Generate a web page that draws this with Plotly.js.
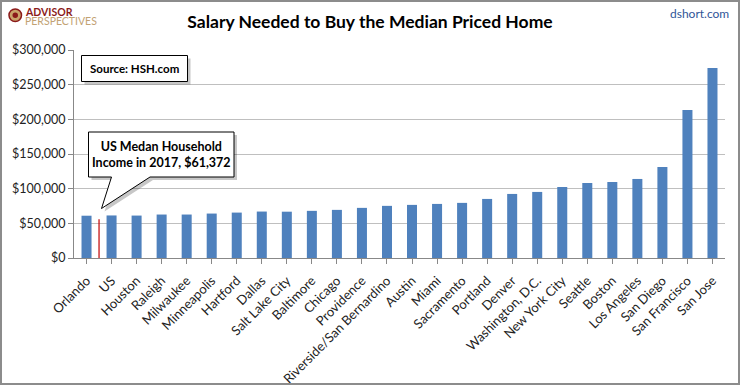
<!DOCTYPE html>
<html>
<head>
<meta charset="utf-8">
<script src="https://cdn.plot.ly/plotly-3.0.1.min.js"></script>
<style>html,body{margin:0;padding:0;background:#fff;}#chart{width:740px;height:385px;}</style>
</head>
<body>
<div id="chart"></div>
<script>
const cities = ["Orlando","US","Houston","Raleigh","Milwaukee","Minneapolis","Hartford","Dallas","Salt Lake City","Baltimore","Chicago","Providence","Riverside/San Bernardino","Austin","Miami","Sacramento","Portland","Denver","Washington, D.C.","New York City","Seattle","Boston","Los Angeles","San Diego","San Francisco","San Jose"];
const salaries = [61000,61372,61200,62700,62700,64100,65500,67000,66800,68000,69400,72300,75200,76600,78000,79500,85200,92400,95300,102400,108200,109600,114000,131200,213400,274000];
const yTicks = [0,50000,100000,150000,200000,250000,300000];
const redLineX = 0.5;
const redLineTop = 56000;

const L = 74, R = 15, T = 50, B = 127, W = 740, H = 385;
const pw = W - L - R, ph = H - T - B;
const px = x => (x - L) / pw;
const py = y => (H - B - y) / ph;

const font = "Lato, 'Open Sans', sans-serif";

const trace = {
  type: "bar", x: cities.map((c, i) => i), y: salaries,
  marker: {color: "#4f81bd"}, hoverinfo: "skip"
};

function pathFrom(pts, dx, dy) {
  return "M " + pts.map(p => px(p[0] + dx) + " " + py(p[1] + dy)).join(" L ") + " Z";
}
const callout = [[88.5,132],[234,132],[234,177],[150,177],[101.5,208.5],[111.5,177],[88.5,177]];
const srcBox = [[81.5,55.5],[187.5,55.5],[187.5,81.5],[81.5,81.5]];

const shapes = [
  {type:"path", xref:"paper", yref:"paper", path: pathFrom(srcBox,3,3), fillcolor:"rgba(0,0,0,0.22)", line:{width:0}},
  {type:"path", xref:"paper", yref:"paper", path: pathFrom(srcBox,0,0), fillcolor:"#fff", line:{color:"#000", width:1}},
  {type:"path", xref:"paper", yref:"paper", path: pathFrom(callout,3,3), fillcolor:"rgba(0,0,0,0.22)", line:{width:0}},
  {type:"path", xref:"paper", yref:"paper", path: pathFrom(callout,0,0), fillcolor:"#fff", line:{color:"#000", width:1}},
  {type:"line", xref:"x", yref:"y", x0:redLineX, x1:redLineX, y0:0, y1:redLineTop, line:{color:"#c00000", width:1.2}},
  {type:"rect", xref:"paper", yref:"paper", x0:px(1), x1:px(739), y0:py(384), y1:py(1), line:{color:"#8c8c8c", width:2}},
  {type:"circle", xref:"paper", yref:"paper", x0:px(9), x1:px(21.5), y0:py(21.5), y1:py(9), fillcolor:"#c9a36a", line:{color:"#8b1a1a", width:1.5}},
  {type:"circle", xref:"paper", yref:"paper", x0:px(12.5), x1:px(18), y0:py(18), y1:py(12.5), fillcolor:"#8b1a1a", line:{width:0}}
];

const annotations = [
  {xref:"paper", yref:"paper", x:px(161), y:py(154.5), text:"<b>US Medan Household<br>Income in 2017, $61,372</b>", showarrow:false, font:{family:font, size:12.5, color:"#000"}, align:"center", xanchor:"center", yanchor:"middle"},
  {xref:"paper", yref:"paper", x:px(134.5), y:py(68.5), text:"<b>Source: HSH.com</b>", showarrow:false, font:{family:font, size:11.5, color:"#000"}, xanchor:"center", yanchor:"middle"},
  {xref:"paper", yref:"paper", x:px(23), y:py(11.5), text:"<b>ADVISOR</b>", showarrow:false, font:{family:font, size:10.5, color:"#8b1a1a"}, xanchor:"left", yanchor:"middle"},
  {xref:"paper", yref:"paper", x:px(23), y:py(21), text:"PERSPECTIVES", showarrow:false, font:{family:font, size:10.5, color:"#c2a273"}, xanchor:"left", yanchor:"middle"},
  {xref:"paper", yref:"paper", x:px(731), y:py(14), text:"dshort.com", showarrow:false, font:{family:font, size:12, color:"#2f5597"}, xanchor:"right", yanchor:"middle"}
];

const layout = {
  width: W, height: H,
  margin: {l:L, r:R, t:T, b:B, pad:0},
  paper_bgcolor: "#fff", plot_bgcolor: "#fff",
  showlegend: false,
  bargap: 0.6,
  title: {text:"<b>Salary Needed to Buy the Median Priced Home</b>", font:{family:font, size:17.5, color:"#000"}, x:0.5, xref:"container", xanchor:"center", y:1-22/H, yref:"container", yanchor:"middle"},
  xaxis: {
    tickmode:"array", tickvals: cities.map((c,i)=>i), ticktext: cities,
    tickangle:-45, tickfont:{family:font, size:13, color:"#222"},
    ticklabelstandoff: 4,
    range:[-0.5, cities.length-0.5],
    showline:true, linecolor:"#888", linewidth:1,
    ticks:"outside", ticklen:5, tickcolor:"#888", tickson:"boundaries",
    showgrid:false, zeroline:false, fixedrange:true
  },
  yaxis: {
    range:[0,300000], tickmode:"array", tickvals:yTicks,
    tickformat:"$,.0f", tickfont:{family:font, size:12.5, color:"#222"},
    showline:true, linecolor:"#888", linewidth:1,
    ticks:"outside", ticklen:5, tickcolor:"#888",
    showgrid:true, gridcolor:"#bfbfbf", gridwidth:1,
    zeroline:false, fixedrange:true
  },
  shapes: shapes,
  annotations: annotations
};

Plotly.newPlot("chart", [trace], layout, {staticPlot:true, displayModeBar:false});
</script>
</body>
</html>
